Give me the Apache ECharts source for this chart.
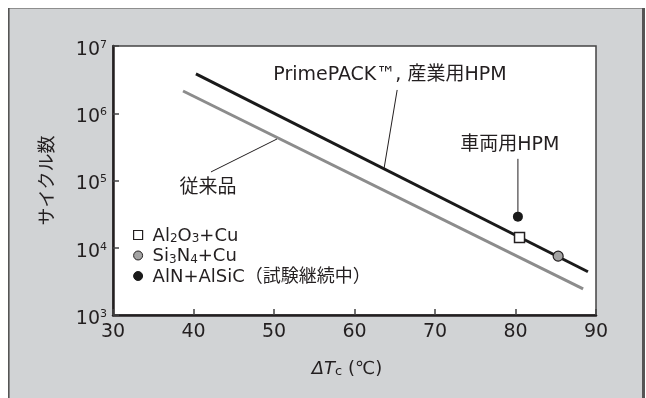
<!DOCTYPE html>
<html>
<head>
<meta charset="utf-8">
<script src="https://cdn.jsdelivr.net/npm/echarts@6/dist/echarts.min.js"></script>
<style>
html,body{margin:0;padding:0;background:#fff;}
#c{width:646px;height:398px;}
</style>
</head>
<body>
<div id="c"></div>
<script>
// ---- data ----
const xTicks = [30, 40, 50, 60, 70, 80, 90];
const yExponents = [3, 4, 5, 6, 7];
const conventionalLine = [[38.7, 2.14e6], [88.4, 2.45e3]];       // 従来品
const primePackLine = [[40.3, 3.84e6], [89.0, 4.4e3]];           // PrimePACK™, 産業用HPM
const al2o3Points = [[80.5, 1.42e4]];
const si3n4Points = [[85.3, 7.5e3]];
const alnPoints = [[80.3, 2.9e4]];
const primeLeader = [[65.3, 2.22e6], [63.66, 1.48e5]];
const convLeader = [[42.17, 1.34e5], [50.37, 4.14e5]];
const vehicleLeader = [[80.3, 2.1e5], [80.3, 3.3e4]];
const annotations = [
  [64.4, 3.7e6, 'PrimePACK™, 産業用HPM'],
  [79.3, 3.37e5, '車両用HPM'],
  [41.8, 7.75e4, '従来品']
];
const legendNames = ['Al2O3+Cu', 'Si3N4+Cu', 'AlN+AlSiC'];
const legendLabels = {
  'Al2O3+Cu': '{n|Al}{s|2}{n|O}{s|3}{n|+Cu}',
  'Si3N4+Cu': '{n|Si}{s|3}{n|N}{s|4}{n|+Cu}',
  'AlN+AlSiC': '{n|AlN+AlSiC（試験継続中）}'
};

const FONT = '"DejaVu Sans", "Noto Sans CJK JP", sans-serif';
const INK = '#231f20';

const chart = echarts.init(document.getElementById('c'));
chart.setOption({
  animation: false,
  backgroundColor: '#ffffff',
  graphic: [
    { type: 'rect', z: -10, shape: { x: 8, y: 8, width: 636, height: 400 }, style: { fill: '#d1d3d5' } },
    { type: 'line', z: -9, shape: { x1: 8, y1: 8.5, x2: 644, y2: 8.5 }, style: { stroke: '#8e8e8e', lineWidth: 1.2 } },
    { type: 'line', z: -9, shape: { x1: 8.8, y1: 8, x2: 8.8, y2: 398 }, style: { stroke: '#555', lineWidth: 1.6 } },
    { type: 'line', z: -9, shape: { x1: 643.5, y1: 8, x2: 643.5, y2: 398 }, style: { stroke: '#555', lineWidth: 3 } }
  ],
  grid: {
    left: 113, right: 50, top: 46, bottom: 83,
    show: true, backgroundColor: '#ffffff', borderColor: '#444', borderWidth: 1.5
  },
  xAxis: {
    type: 'value', min: xTicks[0], max: xTicks[xTicks.length - 1], interval: 10,
    name: '{i|ΔT}{s|c}{n| (℃)}',
    nameLocation: 'middle', nameGap: 43,
    nameTextStyle: {
      padding: [0, 15, 0, 0],
      rich: {
        i: { fontFamily: FONT, fontSize: 18, fontStyle: 'italic', color: INK, lineHeight: 20, verticalAlign: 'bottom' },
        s: { fontFamily: FONT, fontSize: 13, color: INK, lineHeight: 12, verticalAlign: 'bottom' },
        n: { fontFamily: FONT, fontSize: 18, color: INK, lineHeight: 20, verticalAlign: 'bottom' }
      }
    },
    axisLine: { show: true, onZero: false, lineStyle: { color: INK, width: 2.5 } },
    axisTick: { show: true, inside: true, length: 6, lineStyle: { color: '#444', width: 1.5 } },
    axisLabel: { fontFamily: FONT, fontSize: 19, color: INK, margin: 8 },
    splitLine: { show: false }
  },
  yAxis: {
    type: 'log', logBase: 10,
    min: Math.pow(10, yExponents[0]), max: Math.pow(10, yExponents[yExponents.length - 1]),
    name: 'サイクル数', nameLocation: 'middle', nameRotate: 90, nameGap: 56,
    nameTextStyle: { fontFamily: FONT, fontSize: 18, color: INK },
    axisLine: { show: true, onZero: false, lineStyle: { color: INK, width: 2.5 } },
    axisTick: { show: true, inside: true, length: 6, lineStyle: { color: '#444', width: 1.5 } },
    axisLabel: {
      margin: 6,
      padding: [7, 0, 0, 0],
      formatter: v => '{b|10}{p|' + Math.round(Math.log10(v)) + '}',
      rich: {
        b: { fontFamily: FONT, fontSize: 19, color: INK, lineHeight: 20, verticalAlign: 'bottom' },
        p: { fontFamily: FONT, fontSize: 11, color: INK, lineHeight: 9, verticalAlign: 'top' }
      }
    },
    splitLine: { show: false }
  },
  legend: {
    orient: 'vertical', left: 128, top: 222, itemGap: 2.5,
    itemWidth: 9, itemHeight: 9,
    data: [
      { name: legendNames[0], icon: 'rect', itemStyle: { color: '#fff', borderColor: INK, borderWidth: 1.2, opacity: 1 } },
      { name: legendNames[1], icon: 'circle', itemStyle: { color: '#a3a3a3', borderColor: INK, borderWidth: 1, opacity: 1 } },
      { name: legendNames[2], icon: 'circle', itemStyle: { color: '#1a1a1a', borderColor: '#1a1a1a', borderWidth: 1, opacity: 1 } }
    ],
    formatter: n => legendLabels[n],
    textStyle: {
      padding: [0, 0, 0, 5],
      rich: {
        n: { fontFamily: FONT, fontSize: 18, color: INK, lineHeight: 20, verticalAlign: 'bottom' },
        s: { fontFamily: FONT, fontSize: 12, color: INK, lineHeight: 9, verticalAlign: 'bottom' }
      }
    },
    selectedMode: false
  },
  series: [
    { type: 'line', name: '従来品', data: conventionalLine, symbol: 'none', lineStyle: { color: '#8c8c8c', width: 3 }, silent: true },
    { type: 'line', name: 'PrimePACK', data: primePackLine, symbol: 'none', lineStyle: { color: '#1a1a1a', width: 3 }, silent: true },
    { type: 'line', name: 'leader1', data: primeLeader, symbol: 'none', lineStyle: { color: INK, width: 1 }, silent: true },
    { type: 'line', name: 'leader2', data: convLeader, symbol: 'none', lineStyle: { color: INK, width: 1 }, silent: true },
    { type: 'line', name: 'leader3', data: vehicleLeader, symbol: 'none', lineStyle: { color: INK, width: 1 }, silent: true },
    { type: 'scatter', name: legendNames[0], data: al2o3Points, symbol: 'rect', symbolSize: 10, z: 5,
      itemStyle: { color: '#fff', borderColor: INK, borderWidth: 1.5, opacity: 1 } },
    { type: 'scatter', name: legendNames[1], data: si3n4Points, symbol: 'circle', symbolSize: 10, z: 5,
      itemStyle: { color: '#a3a3a3', borderColor: INK, borderWidth: 1.2, opacity: 1 } },
    { type: 'scatter', name: legendNames[2], data: alnPoints, symbol: 'circle', symbolSize: 10, z: 5,
      itemStyle: { color: '#1a1a1a', opacity: 1 } },
    { type: 'scatter', name: 'annotations', data: annotations, symbolSize: 0, silent: true,
      itemStyle: { opacity: 1 },
      label: { show: true, position: 'inside', formatter: p => p.data[2], fontFamily: FONT, fontSize: 19, color: INK, textBorderWidth: 0 } }
  ]
});
</script>
</body>
</html>
